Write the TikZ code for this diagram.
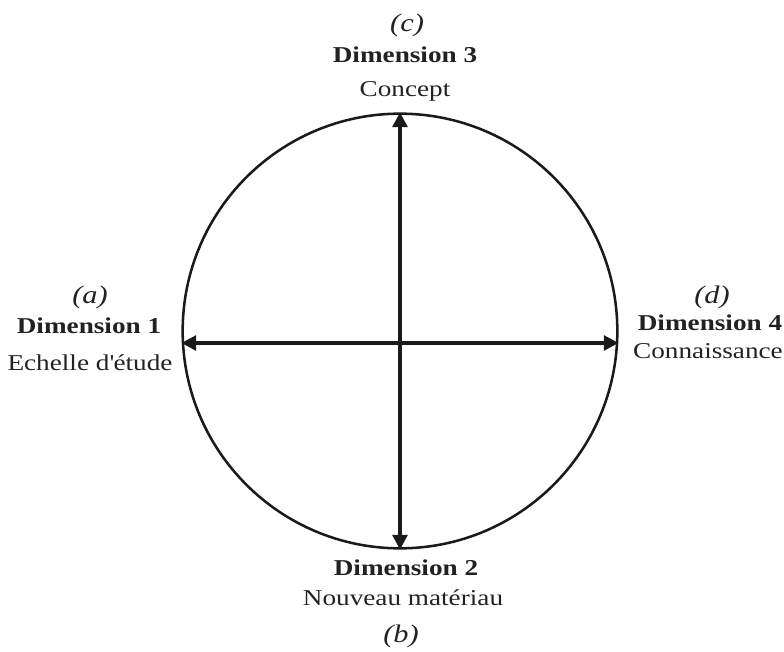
\documentclass[tikz,border=0pt]{standalone}
\usepackage{fontspec}
\setmainfont[FakeStretch=1.2]{Liberation Serif}
\usetikzlibrary{arrows.meta,calc}
\definecolor{dimInk}{HTML}{1A1A1A}
\definecolor{dimText}{HTML}{222222}
\tikzset{
  dimCircle/.style={
    draw=dimInk,
    circle,
    line width=1.9pt,
    minimum size=326pt,
    inner sep=0pt
  },
  dimArrow/.style={
    {Triangle[length=11pt,width=11pt]}-{Triangle[length=11pt,width=11pt]},
    line width=2.6pt,
    draw=dimInk
  },
  dimTitle/.style={
    font=\bfseries\fontsize{17}{19}\selectfont,
    text=dimText,
    anchor=base,
    inner sep=0pt
  },
  dimName/.style={
    dimTitle,
    font=\fontsize{17}{19}\selectfont
  },
  dimTag/.style={
    dimTitle,
    font=\itshape\fontsize{19}{21}\selectfont
  }
}

\begin{document}
\begin{tikzpicture}[x=0.75pt,y=-0.75pt]
\useasboundingbox (0,0) rectangle (784,652);

% The circle and its two axes.
\node[dimCircle] (disc) at (400,331) {};
\coordinate (axis) at (400,343);
\draw[dimArrow] (disc.north) -- (disc.south);
\draw[dimArrow] (axis -| disc.west) -- (axis -| disc.east);

% Dimension 3 (top).
\node[dimTag] (tagC) at (407,32) {(c)};
\node[dimTitle] (dimC) at (405,63) {Dimension 3};
\node[dimName] (nameC) at (405,97) {Concept};

% Dimension 1 (left).
\node[dimTag] (tagA) at (90,303) {(a)};
\node[dimTitle] (dimA) at (89,333) {Dimension 1};
\node[dimName] (nameA) at (90,370) {Echelle d\textquotesingle étude};

% Dimension 4 (right).
\node[dimTag] (tagD) at (712,303) {(d)};
\node[dimTitle] (dimD) at (710,330) {Dimension 4};
\node[dimName] (nameD) at (708,358) {Connaissance};

% Dimension 2 (bottom).
\node[dimTitle] (dimB) at (406,575) {Dimension 2};
\node[dimName] (nameB) at (403,605) {Nouveau matériau};
\node[dimTag] (tagB) at (401,642) {(b)};

\end{tikzpicture}
\end{document}
